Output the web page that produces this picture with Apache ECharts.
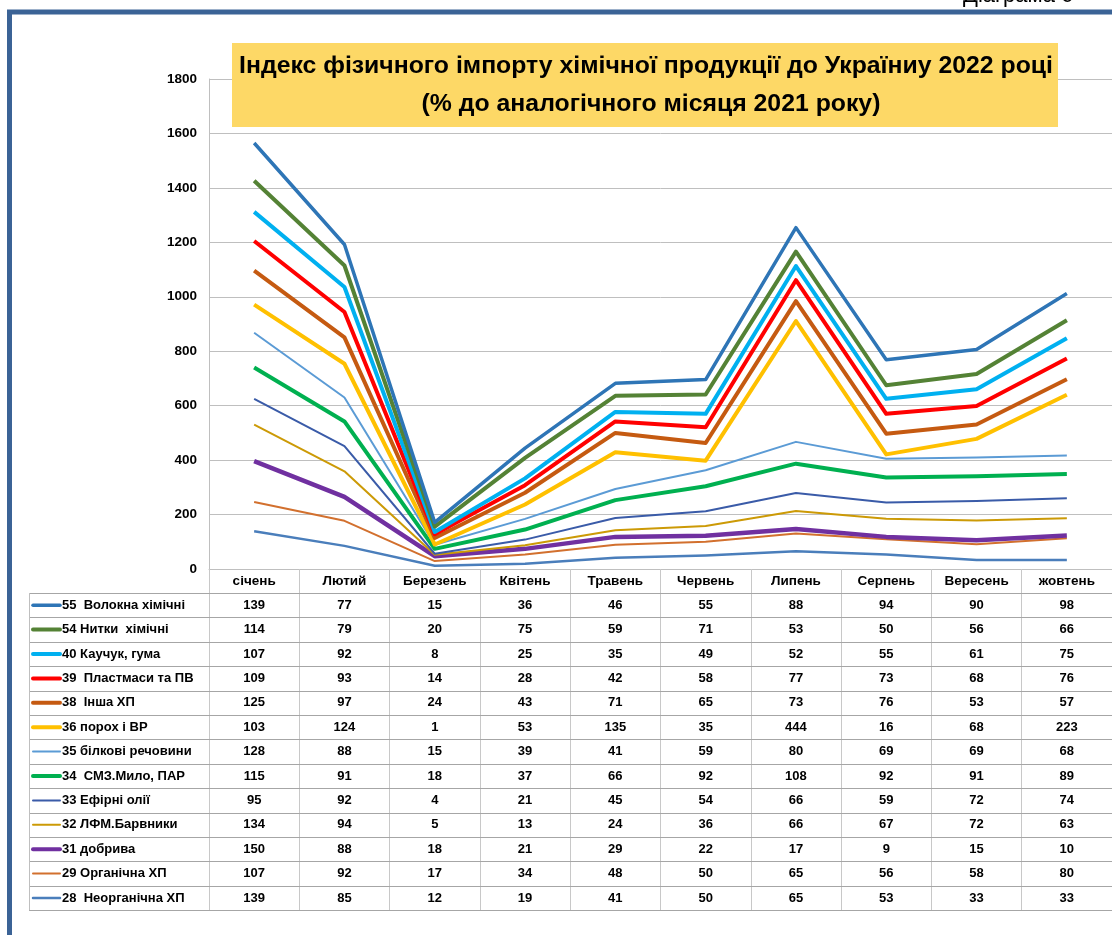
<!DOCTYPE html>
<html>
<head>
<meta charset="utf-8">
<script src="https://cdn.jsdelivr.net/npm/echarts@6/dist/echarts.min.js"></script>
<style>
  html, body { margin: 0; padding: 0; background: #fff; }
  #main { width: 1112px; height: 935px; }
</style>
</head>
<body>
<div id="main"></div>
<script>
// місяці
var months = ['січень', 'Лютий', 'Березень', 'Квітень', 'Травень', 'Червень', 'Липень', 'Серпень', 'Вересень', 'жовтень'];
var yTicks = [0, 200, 400, 600, 800, 1000, 1200, 1400, 1600, 1800];

// значення по групах (як у таблиці)
var s55 = [139, 77, 15, 36, 46, 55, 88, 94, 90, 98];
var s54 = [114, 79, 20, 75, 59, 71, 53, 50, 56, 66];
var s40 = [107, 92, 8, 25, 35, 49, 52, 55, 61, 75];
var s39 = [109, 93, 14, 28, 42, 58, 77, 73, 68, 76];
var s38 = [125, 97, 24, 43, 71, 65, 73, 76, 53, 57];
var s36 = [103, 124, 1, 53, 135, 35, 444, 16, 68, 223];
var s35 = [128, 88, 15, 39, 41, 59, 80, 69, 69, 68];
var s34 = [115, 91, 18, 37, 66, 92, 108, 92, 91, 89];
var s33 = [95, 92, 4, 21, 45, 54, 66, 59, 72, 74];
var s32 = [134, 94, 5, 13, 24, 36, 66, 67, 72, 63];
var s31 = [150, 88, 18, 21, 29, 22, 17, 9, 15, 10];
var s29 = [107, 92, 17, 34, 48, 50, 65, 56, 58, 80];
var s28 = [139, 85, 12, 19, 41, 50, 65, 53, 33, 33];

// порядок рядків таблиці (зверху вниз)
var rows = [
    {name: '55  Волокна хімічні', data: s55, color: '#2E75B6', width: 3.5},
    {name: '54 Нитки  хімічні', data: s54, color: '#548235', width: 4},
    {name: '40 Каучук, гума', data: s40, color: '#00B0F0', width: 4},
    {name: '39  Пластмаси та ПВ', data: s39, color: '#FF0000', width: 4},
    {name: '38  Інша ХП', data: s38, color: '#C55A11', width: 4},
    {name: '36 порох і ВР', data: s36, color: '#FFC000', width: 4},
    {name: '35 білкові речовини', data: s35, color: '#5B9BD5', width: 2},
    {name: '34  СМЗ.Мило, ПАР', data: s34, color: '#00B050', width: 4},
    {name: '33 Ефірні олії', data: s33, color: '#3A5BA8', width: 2},
    {name: '32 ЛФМ.Барвники', data: s32, color: '#CC9A06', width: 2},
    {name: '31 добрива', data: s31, color: '#7030A0', width: 4.5},
    {name: '29 Органічна ХП', data: s29, color: '#D2702E', width: 2},
    {name: '28  Неорганічна ХП', data: s28, color: '#4A7EBB', width: 2.5}
];

var FONT = '"Liberation Sans", Arial, sans-serif';
var gridLeft = 209, gridTop = 79, gridW = 912, gridH = 490;
var tableTop = 593, rowH = 24.4, tableLeft = 29;

var myChart = echarts.init(document.getElementById('main'));

// стек знизу вгору: 28 ... 55
var series = rows.slice().reverse().map(function (r) {
    return {
        name: r.name,
        type: 'line',
        stack: 'total',
        data: r.data,
        symbol: 'none',
        lineStyle: {color: r.color, width: r.width, join: 'round'},
        itemStyle: {color: r.color},
        emphasis: {disabled: true}
    };
});

var option = {
    backgroundColor: '#fff',
    animation: false,
    grid: {left: gridLeft, top: gridTop, width: gridW, height: gridH},
    xAxis: {
        type: 'category',
        data: months,
        boundaryGap: true,
        axisLine: {lineStyle: {color: '#BFBFBF', width: 1}},
        axisTick: {show: true, length: 910 - 569, lineStyle: {color: '#C8C8C8', width: 1}},
        axisLabel: {margin: 5, fontFamily: FONT, fontSize: 13.5, fontWeight: 'bold', color: '#000'}
    },
    yAxis: {
        type: 'value',
        min: 0,
        max: 1800,
        interval: 200,
        axisLine: {show: true, lineStyle: {color: '#BFBFBF', width: 1}},
        axisTick: {show: false},
        splitLine: {lineStyle: {color: '#BFBFBF', width: 1}},
        axisLabel: {
            margin: 12, fontFamily: FONT, fontSize: 13.5, fontWeight: 'bold', color: '#000',
            formatter: function (v) { return yTicks.indexOf(v) >= 0 ? String(v) : ''; }
        }
    },
    series: series
};
myChart.setOption(option);

// рамка, заголовок і таблиця даних
var g = [];
g.push({
    type: 'rect', z: 100,
    shape: {x: 9.5, y: 12, width: 1300, height: 1100},
    style: {fill: 'none', stroke: '#3B6396', lineWidth: 5}
});
g.push({
    type: 'text', z: 100, x: 963, y: -15,
    style: {text: 'Діаграма 6', font: '22px ' + FONT, fill: '#000'}
});
g.push({
    type: 'rect', z: 50,
    shape: {x: 232, y: 43, width: 826, height: 84},
    style: {fill: '#FDD866'}
});
g.push({
    type: 'text', z: 51, x: 646, y: 66,
    style: {
        text: 'Індекс фізичного імпорту хімічної продукції до Україниу 2022 році',
        font: 'bold 24.8px ' + FONT,
        fill: '#000', align: 'center', verticalAlign: 'middle'
    }
});
g.push({
    type: 'text', z: 51, x: 651, y: 104,
    style: {
        text: '(% до аналогічного місяця 2021 року)',
        font: 'bold 24.8px ' + FONT,
        fill: '#000', align: 'center', verticalAlign: 'middle'
    }
});

// горизонтальні лінії таблиці
for (var k = 0; k <= rows.length; k++) {
    var yy = Math.round(tableTop + k * rowH) + 0.5;
    g.push({
        type: 'line', z: 10,
        shape: {x1: tableLeft, y1: yy, x2: 1125, y2: yy},
        style: {stroke: '#A6A6A6', lineWidth: 1}
    });
}
g.push({
    type: 'line', z: 10,
    shape: {x1: tableLeft + 0.5, y1: tableTop, x2: tableLeft + 0.5, y2: tableTop + rows.length * rowH},
    style: {stroke: '#BFBFBF', lineWidth: 1}
});

rows.forEach(function (r, i) {
    var cy = tableTop + i * rowH + rowH / 2;
    g.push({
        type: 'line', z: 11,
        shape: {x1: 33, y1: cy, x2: 60, y2: cy},
        style: {stroke: r.color, lineWidth: Math.min(r.width, 4), lineCap: 'round'}
    });
    g.push({
        type: 'text', z: 11, x: 62, y: cy,
        style: {text: r.name, font: 'bold 13px ' + FONT, fill: '#000', verticalAlign: 'middle'}
    });
    r.data.forEach(function (v, j) {
        var px = myChart.convertToPixel({xAxisIndex: 0}, j);
        g.push({
            type: 'text', z: 11, x: px, y: cy,
            style: {text: String(v), font: 'bold 13px ' + FONT, fill: '#000', align: 'center', verticalAlign: 'middle'}
        });
    });
});

myChart.setOption({graphic: g});
</script>
</body>
</html>
